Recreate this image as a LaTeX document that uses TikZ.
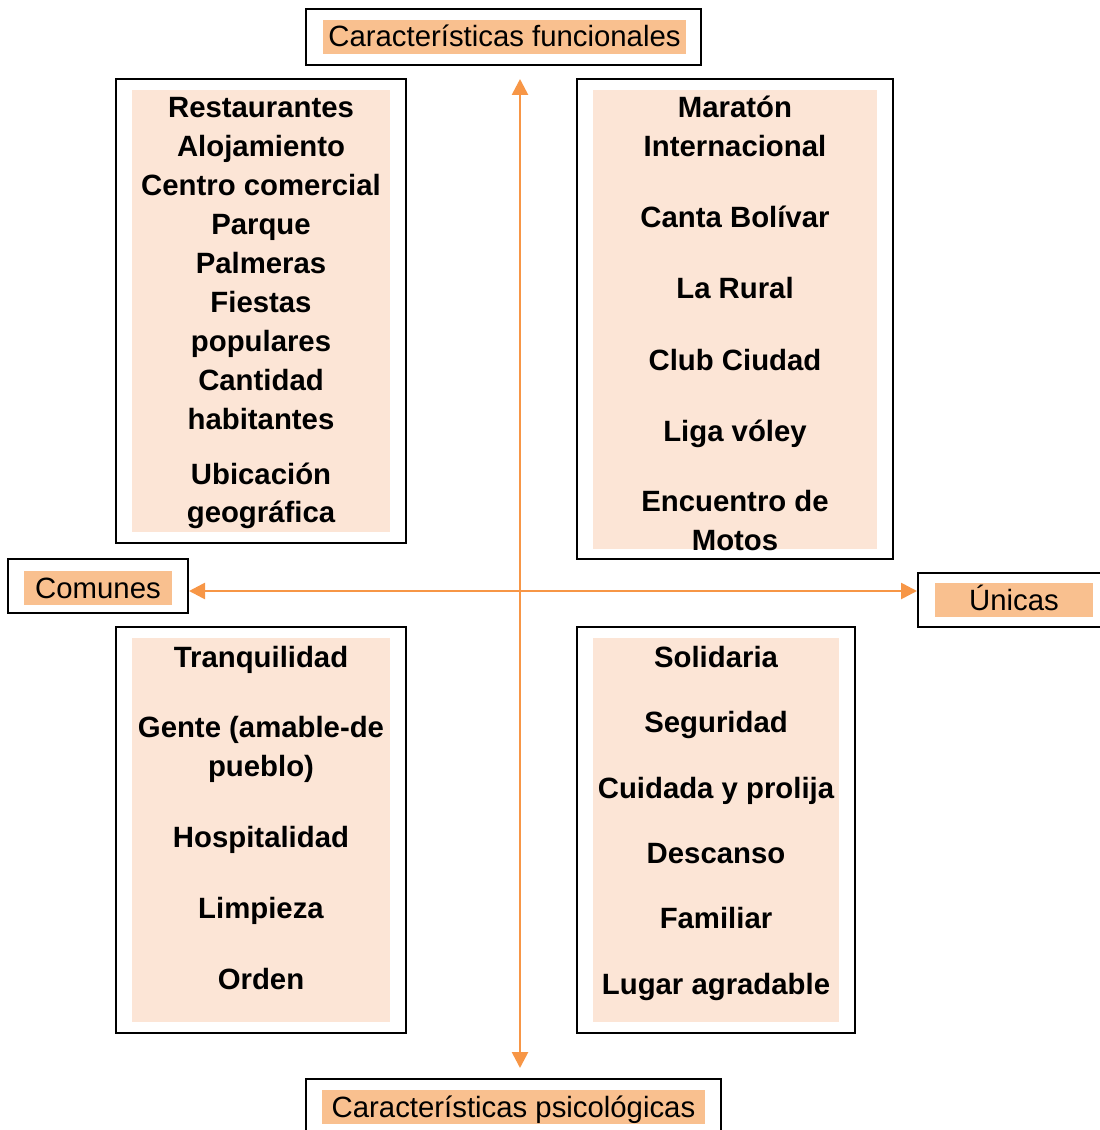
\documentclass[tikz,border=0pt]{standalone}
\usepackage{fontspec}
\setmainfont{Liberation Sans}
\usetikzlibrary{arrows.meta}
\definecolor{naranja}{RGB}{247,150,70}
\definecolor{durazno}{RGB}{249,192,143}
\definecolor{crema}{RGB}{252,229,214}
\tikzset{
  marco/.style={draw=black, line width=1.5pt, inner sep=0pt},
  fondo/.style={fill=crema, inner sep=0pt},
  etiqueta/.style={fill=durazno, font=\fontsize{22}{26}\selectfont, anchor=base, inner sep=0pt, text height=20pt, text depth=5.5pt},
  linea/.style={font=\bfseries\fontsize{22}{26}\selectfont, anchor=base, inner sep=0pt},
  eje/.style={draw=naranja, line width=2pt, {Triangle[width=12pt,length=12pt]}-{Triangle[width=12pt,length=12pt]}}
}
\begin{document}
\begin{tikzpicture}[x=0.75pt,y=-0.75pt]
\useasboundingbox (0,0) rectangle (1099,1130);
% fondos de los cuadrantes
\node [fondo, minimum width=193.5pt, minimum height=331.5pt] (fondoA) at (261,311) {};
\node [fondo, minimum width=213pt, minimum height=344.25pt] (fondoB) at (735,319.5) {};
\node [fondo, minimum width=193.5pt, minimum height=288pt] (fondoC) at (261,830) {};
\node [fondo, minimum width=184.5pt, minimum height=288pt] (fondoD) at (716,830) {};
% comunes - funcionales
\node [linea] (a1) at (261,118) {Restaurantes};
\node [linea] (a2) at (261,157) {Alojamiento};
\node [linea] (a3) at (261,196) {Centro comercial};
\node [linea] (a4) at (261,235) {Parque};
\node [linea] (a5) at (261,274) {Palmeras};
\node [linea] (a6) at (261,312) {Fiestas};
\node [linea] (a7) at (261,351) {populares};
\node [linea] (a8) at (261,390) {Cantidad};
\node [linea] (a9) at (261,429) {habitantes};
\node [linea] (a10) at (261,484) {Ubicación};
\node [linea] (a11) at (261,522) {geográfica};
% unicas - funcionales
\node [linea] (b1) at (735,118) {Maratón};
\node [linea] (b2) at (735,157) {Internacional};
\node [linea] (b3) at (735,228) {Canta Bolívar};
\node [linea] (b4) at (735,299) {La Rural};
\node [linea] (b5) at (735,370) {Club Ciudad};
\node [linea] (b6) at (735,441) {Liga vóley};
\node [linea] (b7) at (735,511) {Encuentro de};
\node [linea] (b8) at (735,550) {Motos};
% comunes - psicologicas
\node [linea] (c1) at (261,667) {Tranquilidad};
\node [linea] (c2) at (261,737) {Gente (amable-de};
\node [linea] (c3) at (261,776) {pueblo)};
\node [linea] (c4) at (261,847) {Hospitalidad};
\node [linea] (c5) at (261,918) {Limpieza};
\node [linea] (c6) at (261,989) {Orden};
% unicas - psicologicas
\node [linea] (d1) at (716,667) {Solidaria};
\node [linea] (d2) at (716,732) {Seguridad};
\node [linea] (d3) at (716,798) {Cuidada y prolija};
\node [linea] (d4) at (716,863) {Descanso};
\node [linea] (d5) at (716,928) {Familiar};
\node [linea] (d6) at (716,994) {Lugar agradable};
% marcos
\node [marco, minimum width=217.5pt, minimum height=348pt] (marcoA) at (261,311) {};
\node [marco, minimum width=237pt, minimum height=360pt] (marcoB) at (735,319) {};
\node [marco, minimum width=217.5pt, minimum height=304.5pt] (marcoC) at (261,830) {};
\node [marco, minimum width=208.5pt, minimum height=304.5pt] (marcoD) at (716,830) {};
% titulos de los ejes
\node [marco, minimum width=296.25pt, minimum height=42pt] (marcoF) at (503.5,37) {};
\node [etiqueta, minimum width=272.25pt] (funcional) at (504.5,47) {Características funcionales};
\node [marco, minimum width=311.25pt, minimum height=42.75pt] (marcoP) at (513.5,1107.5) {};
\node [etiqueta, minimum width=287.25pt] (psico) at (513.5,1117) {Características psicológicas};
\node [marco, minimum width=135pt, minimum height=40.5pt] (marcoCo) at (98,586) {};
\node [etiqueta, minimum width=111pt] (comunes) at (98,598) {Comunes};
\node [marco, minimum width=144pt, minimum height=40.5pt] (marcoU) at (1014,600) {};
\node [etiqueta, minimum width=118.5pt] (unicas) at (1014,610) {Únicas};
% ejes
\coordinate (arriba) at (520,79);
\coordinate (abajo) at (520,1068);
\coordinate (medio) at (0,591);
\draw [eje] (arriba) -- (abajo);
\draw [eje] (marcoCo.east |- medio) -- (marcoU.west |- medio);
\end{tikzpicture}
\end{document}
